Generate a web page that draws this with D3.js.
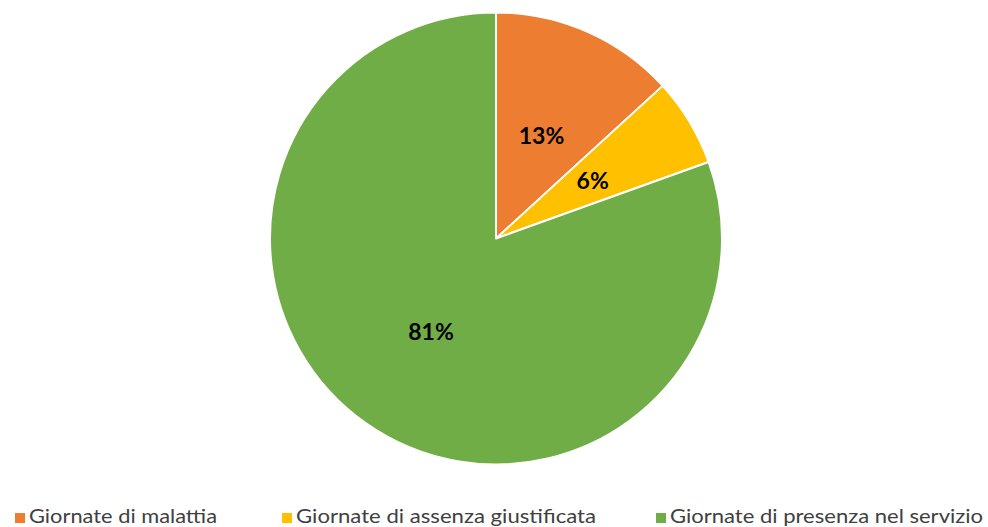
<!DOCTYPE html>
<html><head><meta charset="utf-8">
<script src="https://cdn.jsdelivr.net/npm/d3@7"></script>
<style>body{margin:0;background:#fff}svg{display:block}</style>
</head><body>
<svg id="c" width="988" height="527"></svg>
<script>
const categories = ["Giornate di malattia", "Giornate di assenza giustificata", "Giornate di presenza nel servizio"];
const values = [13.2, 6.3, 80.5];
const labels = ["13%", "6%", "81%"];
const colors = ["#ED7D31", "#FFC000", "#70AD47"];

const svg = d3.select("#c");
const cx = 496, cy = 238.5, R = 226;
const pie = d3.pie().sort(null).value(d => d)(values);
const arc = d3.arc().innerRadius(0).outerRadius(R);
const labelArc = d3.arc().innerRadius(226).outerRadius(0);
const g = svg.append("g").attr("transform", `translate(${cx},${cy})`);
g.selectAll("path").data(pie).join("path")
  .attr("d", arc).attr("fill", (d, i) => colors[i])
  .attr("stroke", "#fff").attr("stroke-width", 2).attr("stroke-linejoin", "round");
g.selectAll("text").data(pie).join("text")
  .attr("transform", d => `translate(${labelArc.centroid(d)})`)
  .attr("text-anchor", "middle").attr("dominant-baseline", "central")
  .attr("font-family", "Lato, 'Open Sans', sans-serif").attr("font-weight", "bold")
  .attr("font-size", 23).attr("fill", "#000")
  .text((d, i) => labels[i]);

const legendTextX = [29, 296, 670];
const legendTextW = [188, 300, 313];
const lg = svg.append("g");
categories.forEach((c, i) => {
  lg.append("rect").attr("x", legendTextX[i] - 14).attr("y", 513).attr("width", 10).attr("height", 10).attr("fill", colors[i]);
  lg.append("text").attr("x", legendTextX[i]).attr("y", 522.5)
    .attr("font-family", "Lato, 'Open Sans', sans-serif").attr("font-size", 19).attr("fill", "#404040")
    .attr("textLength", legendTextW[i]).attr("lengthAdjust", "spacingAndGlyphs")
    .text(c);
});
</script>
</body></html>
